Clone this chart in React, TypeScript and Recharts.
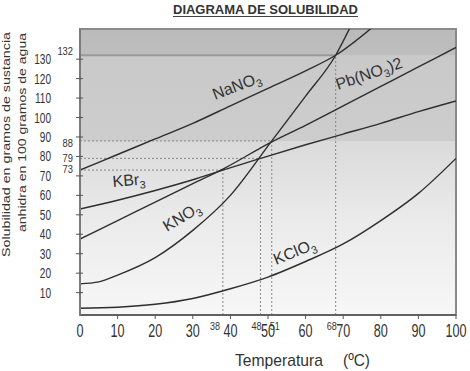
import { LineChart, Line, XAxis, YAxis, ReferenceArea, ReferenceLine } from 'recharts'

const FONT = '"Liberation Sans", Arial, sans-serif'

// solubility curves: temperature (ºC) / grams per 100 g water
const NANO3_T = [0, 10, 20, 30, 40, 50, 60, 68, 80]
const NANO3_S = [73, 81, 89, 97, 106, 115, 124, 132, 150]

const PB_T = [0, 10, 20, 30, 38, 51, 60, 70, 80, 90, 100]
const PB_S = [37.5, 47, 56.5, 66, 73.5, 87.5, 96, 106, 116, 126, 136]

const KBR_T = [0, 10, 20, 30, 38, 48, 60, 70, 80, 90, 100]
const KBR_S = [53, 57.5, 62.5, 68, 73, 79, 86, 91.5, 97, 103, 108.5]

const KNO3_T = [0, 5, 10, 20, 30, 40, 51, 60, 68, 72]
const KNO3_S = [14.5, 15.5, 19, 28, 42, 60, 88, 111, 132, 147]

const KCLO3_T = [0, 10, 20, 30, 40, 50, 60, 70, 80, 90, 100]
const KCLO3_S = [2, 2.5, 4, 7, 12, 18, 26, 35, 47, 61, 79]

// guide lines at the marked crossings
const GUIDE_T = [38, 48, 51, 68]
const GUIDE_S = [73, 79, 88, 132]

const X_TICKS = [0, 10, 20, 30, 40, 50, 60, 70, 80, 90, 100]
const Y_TICKS = [10, 20, 30, 40, 50, 60, 70, 80, 90, 100, 110, 120, 130]

const Y_MIN = -1.5
const Y_MAX = 145.5

const toPoints = (t: number[], s: number[]) => t.map((x, i) => ({ x, y: s[i] }))

const CURVES = [
  { key: 'NaNO3', data: toPoints(NANO3_T, NANO3_S) },
  { key: 'Pb(NO3)2', data: toPoints(PB_T, PB_S) },
  { key: 'KBr3', data: toPoints(KBR_T, KBR_S) },
  { key: 'KNO3', data: toPoints(KNO3_T, KNO3_S) },
  { key: 'KClO3', data: toPoints(KCLO3_T, KCLO3_S) },
]

const X_LABEL_SHIFT: Record<number, number> = { 38: -8, 48: -4, 51: 3, 68: -4 }
const Y_LABEL_SHIFT: Record<number, number> = { 132: 0, 88: 6, 79: 3.5, 73: 3 }

function XTick({ x, y, payload }: any) {
  const v = payload.value
  if (GUIDE_T.includes(v)) {
    return (
      <text transform={`translate(${x + X_LABEL_SHIFT[v]},${y + 14.5}) scale(0.9,1)`} textAnchor="middle" fontSize={10} fill="#333" fontFamily={FONT}>
        {v}
      </text>
    )
  }
  return (
    <g>
      {v > 0 && <line x1={x} x2={x} y1={y} y2={y + 4} stroke="#555" />}
      <text transform={`translate(${x},${y + 22}) scale(0.7,1)`} textAnchor="middle" fontSize={18} fill="#333" fontFamily={FONT}>
        {v}
      </text>
    </g>
  )
}

function YTick({ x, y, payload }: any) {
  const v = payload.value
  if (GUIDE_S.includes(v)) {
    return (
      <text transform={`translate(${x - 7},${y + Y_LABEL_SHIFT[v]}) scale(0.85,1)`} textAnchor="end" fontSize={11} fill="#333" fontFamily={FONT}>
        {v}
      </text>
    )
  }
  return (
    <g>
      <line x1={x - 4} x2={x + 3} y1={y} y2={y} stroke="#555" />
      <text transform={`translate(${x - 29},${y + 5}) scale(0.72,1)`} textAnchor="end" fontSize={14} fill="#333" fontFamily={FONT}>
        {v}
      </text>
    </g>
  )
}

function CurveLabel({ x, y, angle, size = 16, main, sub, tail }: any) {
  return (
    <text transform={`translate(${x},${y}) rotate(${angle})`} fontSize={size} fill="#333" fontFamily={FONT}>
      {main}
      <tspan fontSize={size * 0.68} dy={4}>{sub}</tspan>
      {tail && <tspan dy={-4}>{tail}</tspan>}
    </text>
  )
}

export default function App() {
  return (
    <div style={{ position: 'absolute', left: 0, top: 0, width: 470, height: 371, background: '#fff' }}>
      <svg width={0} height={0} style={{ position: 'absolute' }}>
        <defs>
          <linearGradient id="plotBg" x1="0" y1="0" x2="0" y2="1">
            <stop offset="0%" stopColor="#bababa" />
            <stop offset="9%" stopColor="#bebebe" />
            <stop offset="9.3%" stopColor="#c9c9c9" />
            <stop offset="39%" stopColor="#cdcdcd" />
            <stop offset="39.4%" stopColor="#dadada" />
            <stop offset="65%" stopColor="#eaeaea" />
            <stop offset="100%" stopColor="#f7f7f7" />
          </linearGradient>
        </defs>
      </svg>

      <LineChart width={470} height={371} margin={{ top: 29, right: 14, bottom: 16, left: 50 }}>
        <XAxis
          type="number"
          dataKey="x"
          domain={[0, 100]}
          ticks={[...X_TICKS, ...GUIDE_T]}
          interval={0}
          height={40}
          tickSize={0}
          tickMargin={0}
          tickLine={false}
          axisLine={{ stroke: '#555', strokeWidth: 1.5 }}
          tick={XTick}
          allowDataOverflow
        />
        <YAxis
          type="number"
          dataKey="y"
          domain={[Y_MIN, Y_MAX]}
          ticks={[...Y_TICKS, ...GUIDE_S]}
          interval={0}
          width={30}
          tickSize={0}
          tickMargin={0}
          tickLine={false}
          axisLine={{ stroke: '#7a7a7a', strokeWidth: 2 }}
          tick={YTick}
          allowDataOverflow
        />
        <ReferenceArea x1={0} x2={100} y1={Y_MIN} y2={Y_MAX} fill="url(#plotBg)" fillOpacity={1} stroke="#8a8a8a" strokeWidth={2} />

        {GUIDE_T.map((t, i) => (
          <ReferenceLine
            key={'h' + t}
            segment={[{ x: 0, y: GUIDE_S[i] }, { x: t, y: GUIDE_S[i] }]}
            stroke={GUIDE_S[i] === 132 ? '#9a9a9a' : '#888'}
            strokeWidth={GUIDE_S[i] === 132 ? 2 : 1}
            strokeDasharray={GUIDE_S[i] === 132 ? undefined : '2 2'}
          />
        ))}
        {GUIDE_T.map((t, i) => (
          <ReferenceLine
            key={'v' + t}
            segment={[{ x: t, y: Y_MIN }, { x: t, y: GUIDE_S[i] }]}
            stroke="#888"
            strokeDasharray="2 2"
          />
        ))}

        {CURVES.map(c => (
          <Line
            key={c.key}
            data={c.data}
            dataKey="y"
            type="monotone"
            stroke="#2e2e2e"
            strokeWidth={1.4}
            dot={false}
            activeDot={false}
            isAnimationActive={false}
          />
        ))}
      </LineChart>

      <svg width={470} height={371} style={{ position: 'absolute', left: 0, top: 0, pointerEvents: 'none' }}>
        <text x={173} y={14} textLength={185} lengthAdjust="spacingAndGlyphs" fontSize={13} fontWeight={600} fill="#333" fontFamily={FONT}>
          DIAGRAMA DE SOLUBILIDAD
        </text>
        <line x1={173} x2={358} y1={16.5} y2={16.5} stroke="#444" />

        <text transform="translate(10,144.5) rotate(-90)" textAnchor="middle" textLength={225} lengthAdjust="spacingAndGlyphs" fontSize={11} fill="#333" fontFamily={FONT}>
          Solubilidad en gramos de sustancia
        </text>
        <text transform="translate(26,132.5) rotate(-90)" textAnchor="middle" textLength={199} lengthAdjust="spacingAndGlyphs" fontSize={11} fill="#333" fontFamily={FONT}>
          anhidra en 100 gramos de agua
        </text>

        <text x={235} y={366} textLength={88} lengthAdjust="spacingAndGlyphs" fontSize={17} fill="#333" fontFamily={FONT}>Temperatura</text>
        <text x={343} y={366} textLength={27} lengthAdjust="spacingAndGlyphs" fontSize={17} fill="#333" fontFamily={FONT}>(ºC)</text>

        <CurveLabel x={215} y={100} angle={-21} main="NaNO" sub="3" />
        <CurveLabel x={338} y={90} angle={-19} main="Pb(NO" sub="3" tail=")2" />
        <CurveLabel x={113} y={187} angle={-5} main="KBr" sub="3" />
        <CurveLabel x={167} y={232} angle={-31} main="KNO" sub="3" />
        <CurveLabel x={276} y={265} angle={-22} main="KClO" sub="3" />
      </svg>
    </div>
  )
}
